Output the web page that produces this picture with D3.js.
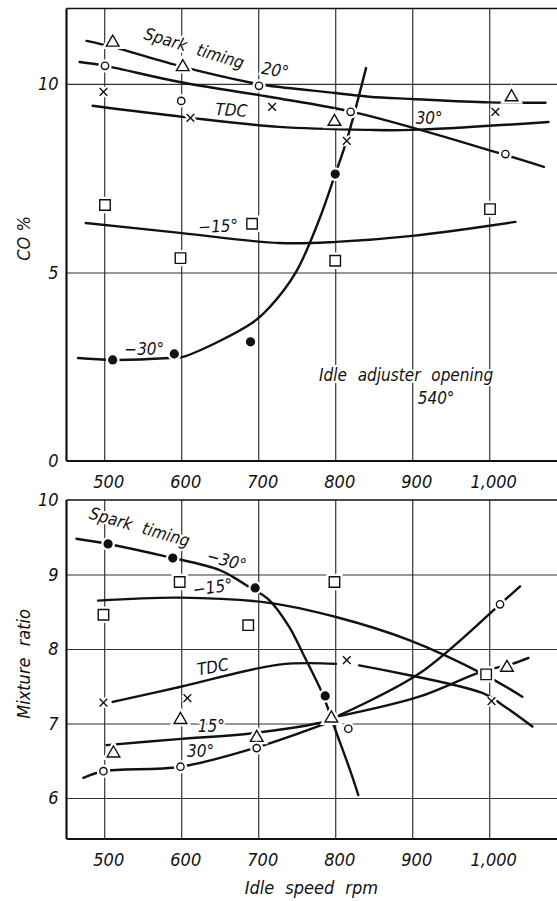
<!DOCTYPE html>
<html>
<head>
<meta charset="utf-8">
<script src="https://cdn.jsdelivr.net/npm/d3@7"></script>
<style>
  body { margin: 0; background: #fff; }
  svg { display: block; }
  text { font-family: "Liberation Sans Narrow", "DejaVu Sans Condensed", "Liberation Sans", sans-serif; font-style: italic; fill: #111; }
</style>
</head>
<body>
<svg width="557" height="901"></svg>
<script>
// ---- data ----
var rpmTicks = [500, 600, 700, 800, 900, 1000];
var coTicks = [0, 5, 10];
var mixTicks = [6, 7, 8, 9, 10];

// CO % (top panel) : measured points [rpm, value]
var coTri20   = [[511, 11.1], [602, 10.45], [799, 9.0], [1029, 9.65]];
var coCirc30  = [[501, 10.48], [600, 9.55], [701, 9.95], [820, 9.26], [1021, 8.14]];
var coXTdc    = [[499, 9.79], [612, 9.1], [718, 9.39], [815, 8.49], [1008, 9.26]];
var coSqM15   = [[501, 6.79], [599, 5.38], [692, 6.29], [800, 5.31], [1001, 6.68]];
var coDotM30  = [[511, 2.68], [591, 2.84], [690, 3.16], [800, 7.61]];

// CO % fitted curves
var coCurve20  = [[477, 11.14], [511, 10.98], [602, 10.45], [691, 10.03], [714, 9.95], [800, 9.76], [844, 9.66], [900, 9.6], [1000, 9.51], [1073, 9.5]];
var coCurve30  = [[468, 10.58], [501, 10.48], [598, 10.05], [714, 9.66], [828, 9.23], [1012, 8.17], [1071, 7.8]];
var coCurveTdc = [[485, 9.42], [604, 9.12], [727, 8.86], [844, 8.78], [900, 8.78], [1077, 8.99]];
var coCurveM15 = [[476, 6.31], [598, 6.05], [727, 5.78], [801, 5.81], [900, 5.97], [1034, 6.34]];
var coCurveM30 = [[466, 2.73], [511, 2.68], [585, 2.73], [602, 2.76], [692, 3.66], [714, 4.06], [749, 5.01], [779, 6.39], [800, 7.61], [815, 8.51], [840, 10.42]];

// Mixture ratio (bottom panel) : measured points
var mrDotM30  = [[505, 9.41], [589, 9.22], [696, 8.82], [787, 7.37]];
var mrSqM15   = [[499, 8.46], [598, 8.9], [687, 8.32], [799, 8.9], [996, 7.66]];
var mrXTdc    = [[499, 7.28], [608, 7.34], [815, 7.85], [1003, 7.3]];
var mrTri15   = [[512, 6.6], [599, 7.05], [698, 6.81], [795, 7.07], [1023, 7.75]];
var mrCirc30  = [[499, 6.36], [599, 6.42], [698, 6.67], [817, 6.93], [1014, 8.6]];

// Mixture ratio fitted curves
var mrCurveM30  = [[464, 9.48], [505, 9.41], [581, 9.24], [650, 9.06], [684, 8.86], [714, 8.66], [740, 8.3], [758, 7.94], [783, 7.41], [792, 7.16], [799, 6.95], [819, 6.38], [830, 6.04]];
var mrCurveM15  = [[492, 8.65], [598, 8.69], [714, 8.62], [801, 8.43], [896, 8.12], [991, 7.67], [1043, 7.36]];
var mrCurveTdcA = [[511, 7.29], [598, 7.49], [727, 7.79], [801, 7.8]];
var mrCurveTdcB = [[831, 7.78], [991, 7.41], [1017, 7.25], [1056, 6.96]];
var mrCurve15A  = [[503, 6.71], [596, 6.79], [693, 6.87], [781, 7.01], [795, 7.05]];
var mrCurve15B  = [[801, 7.09], [909, 7.36], [991, 7.7], [1030, 7.8], [1051, 7.88]];
var mrCurve30A  = [[473, 6.27], [499, 6.36], [599, 6.42], [698, 6.68], [795, 7.03]];
var mrCurve30B  = [[805, 7.11], [909, 7.67], [1014, 8.6], [1040, 8.84]];

var svg = d3.select("svg");

var x = d3.scaleLinear().domain([451, 1088]).range([66.5, 557]);
var yTop = d3.scaleLinear().domain([0, 12]).range([461, 8.5]);
var yBot = d3.scaleLinear().domain([5.45, 10]).range([839, 500]);

function panel(yS, yTicks, ymin, ymax) {
  var g = svg.append("g");
  // vertical grid
  g.append("g")
    .attr("transform", "translate(0," + yS(ymin) + ")")
    .call(d3.axisBottom(x).tickValues(rpmTicks).tickSize(-(yS(ymin) - yS(ymax))).tickFormat(""))
    .call(function(a) { a.select(".domain").remove(); a.selectAll("line").attr("stroke", "#222").attr("stroke-width", 1.1); });
  // horizontal grid
  g.append("g")
    .attr("transform", "translate(" + x.range()[0] + ",0)")
    .call(d3.axisRight(yS).tickValues(yTicks.filter(function(d) { return d > ymin && d < ymax; }))
      .tickSize(x.range()[1] - x.range()[0]).tickFormat(""))
    .call(function(a) { a.select(".domain").remove(); a.selectAll("line").attr("stroke", "#333").attr("stroke-width", 1.1); });
  // frame: top, left, bottom
  g.append("line").attr("x1", x.range()[0]).attr("x2", x.range()[1]).attr("y1", yS(ymax)).attr("y2", yS(ymax))
    .attr("stroke", "#111").attr("stroke-width", 1.5);
  g.append("line").attr("x1", x.range()[0]).attr("x2", x.range()[0]).attr("y1", yS(ymax)).attr("y2", yS(ymin))
    .attr("stroke", "#111").attr("stroke-width", 2.2);
  g.append("line").attr("x1", x.range()[0]).attr("x2", x.range()[1]).attr("y1", yS(ymin)).attr("y2", yS(ymin))
    .attr("stroke", "#111").attr("stroke-width", 2.2);
  // tick labels
  g.append("g")
    .attr("transform", "translate(0," + yS(ymin) + ")")
    .call(d3.axisBottom(x).tickValues(rpmTicks).tickSize(0).tickPadding(14)
      .tickFormat(function(d) { return d === 1000 ? "1,000" : d; }))
    .call(function(a) { a.select(".domain").remove(); a.selectAll("text").style("font-size", "18px").attr("fill", "#111").attr("dx", 4); });
  g.append("g")
    .attr("transform", "translate(" + x.range()[0] + ",0)")
    .call(d3.axisLeft(yS).tickValues(yTicks).tickSize(0).tickPadding(8).tickFormat(d3.format("d")))
    .call(function(a) { a.select(".domain").remove(); a.selectAll("text").style("font-size", "18px").attr("fill", "#111"); });
  return g;
}

var gTop = panel(yTop, coTicks, 0, 12);
var gBot = panel(yBot, mixTicks, 5.45, 10);

function curve(g, data, yS) {
  var line = d3.line()
    .x(function(d) { return x(d[0]); })
    .y(function(d) { return yS(d[1]); })
    .curve(d3.curveCatmullRom.alpha(0.5));
  g.append("path").datum(data).attr("d", line)
    .attr("fill", "none").attr("stroke", "#111").attr("stroke-width", 2.4).attr("stroke-linecap", "round");
}

[coCurve20, coCurve30, coCurveTdc, coCurveM15, coCurveM30].forEach(function(c) { curve(gTop, c, yTop); });
[mrCurveM30, mrCurveM15, mrCurveTdcA, mrCurveTdcB, mrCurve15A, mrCurve15B, mrCurve30A, mrCurve30B].forEach(function(c) { curve(gBot, c, yBot); });

var shapes = {
  tri:  { sym: d3.symbolTriangle, size: 70, fill: "#fff" },
  circ: { sym: d3.symbolCircle, size: 42, fill: "#fff" },
  sq:   { sym: d3.symbolSquare, size: 110, fill: "#fff" },
  dot:  { sym: d3.symbolCircle, size: 48, fill: "#111" },
  x:    { sym: d3.symbolTimes, size: 40, fill: "none" }
};

function marks(g, data, yS, kind) {
  var s = shapes[kind];
  var path = d3.symbol().type(s.sym).size(s.size);
  var m = g.append("g");
  // white halo breaking the lines around each marker
  m.selectAll(".halo").data(data).enter().append("path")
    .attr("class", "halo")
    .attr("d", path)
    .attr("transform", function(d) { return "translate(" + x(d[0]) + "," + yS(d[1]) + ")"; })
    .attr("fill", kind === "x" ? "none" : "#fff").attr("stroke", "#fff").attr("stroke-width", 6);
  m.selectAll(".mk").data(data).enter().append("path")
    .attr("class", "mk")
    .attr("d", path)
    .attr("transform", function(d) { return "translate(" + x(d[0]) + "," + yS(d[1]) + ")"; })
    .attr("fill", s.fill).attr("stroke", "#111").attr("stroke-width", 1.4);
}

marks(gTop, coTri20, yTop, "tri");
marks(gTop, coCirc30, yTop, "circ");
marks(gTop, coXTdc, yTop, "x");
marks(gTop, coSqM15, yTop, "sq");
marks(gTop, coDotM30, yTop, "dot");

marks(gBot, mrDotM30, yBot, "dot");
marks(gBot, mrSqM15, yBot, "sq");
marks(gBot, mrXTdc, yBot, "x");
marks(gBot, mrTri15, yBot, "tri");
marks(gBot, mrCirc30, yBot, "circ");

// annotations
function note(g, txt, px, py, rot, size) {
  g.append("text")
    .attr("transform", "translate(" + px + "," + py + ") rotate(" + (rot || 0) + ")")
    .attr("text-anchor", "middle").attr("dy", "0.35em")
    .style("font-size", (size || 17) + "px")
    .style("word-spacing", "6px")
    .attr("stroke", "#fff").attr("stroke-width", 4).attr("paint-order", "stroke")
    .text(txt);
}

note(gTop, "Spark timing", x(617), yTop(10.95), 17);
note(gTop, "20°", x(722), yTop(10.37), 10);
note(gTop, "TDC", x(665), yTop(9.31), 3);
note(gTop, "30°", x(922), yTop(9.1), 0);
note(gTop, "\u221215°", x(648), yTop(6.23), -3);
note(gTop, "\u221230°", x(552), yTop(2.97), 0);
note(gTop, "Idle adjuster opening", x(892), yTop(2.28), 0);
note(gTop, "540°", x(931), yTop(1.67), 0);

note(gBot, "Spark timing", x(546), yBot(9.64), 16);
note(gBot, "\u221230°", x(659), yBot(9.19), 15);
note(gBot, "\u221215°", x(641), yBot(8.83), -8);
note(gBot, "TDC", x(641), yBot(7.76), -10);
note(gBot, "15°", x(639), yBot(6.97), 0);
note(gBot, "30°", x(625), yBot(6.63), 0);

// axis titles
svg.append("text")
  .attr("transform", "translate(24," + yTop(5.9) + ") rotate(-90)")
  .attr("text-anchor", "middle").attr("dy", "0.35em")
  .style("font-size", "18px").text("CO %");
svg.append("text")
  .attr("transform", "translate(24," + yBot(7.8) + ") rotate(-90)")
  .attr("text-anchor", "middle").attr("dy", "0.35em")
  .style("font-size", "18px").style("word-spacing", "6px").text("Mixture ratio");
svg.append("text")
  .attr("x", x(769)).attr("y", 888)
  .attr("text-anchor", "middle").attr("dy", "0.35em")
  .style("font-size", "18px").style("word-spacing", "6px").text("Idle speed rpm");
</script>
</body>
</html>
